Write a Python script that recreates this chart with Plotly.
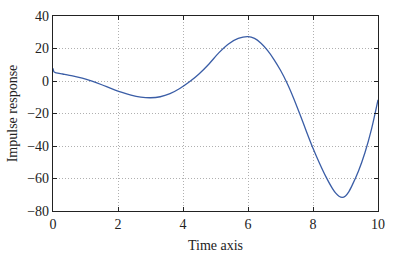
import plotly.graph_objects as go

t = [0, 0.03, 0.1, 0.3, 0.6, 0.9, 1.2, 1.5, 1.8, 2.1, 2.4, 2.7, 3.0, 3.3, 3.6, 3.9,
     4.2, 4.5, 4.8, 5.1, 5.4, 5.7, 6.0, 6.2, 6.4, 6.6, 6.8, 7.0, 7.2, 7.4, 7.6, 7.8,
     8.0, 8.2, 8.4, 8.6, 8.7, 8.8, 8.9, 9.0, 9.1, 9.2, 9.4, 9.6, 9.8, 10.0]
response = [7.8, 5.6, 5.0, 4.3, 3.2, 1.8, -0.1, -2.3, -4.7, -6.9, -8.7, -9.9, -10.3, -9.7, -7.8, -4.6,
            -0.5, 4.5, 10.5, 17.3, 22.8, 26.2, 27.3, 26.2, 23.2, 18.8, 13.2, 6.6, -1.2, -10.4, -20.6, -31.2,
            -41.4, -50.6, -59.0, -66.2, -69.0, -70.9, -71.6, -70.7, -68.2, -64.4, -55.4, -44.0, -29.6, -11.6]

x_ticks = [0, 2, 4, 6, 8, 10]
y_ticks = [-80, -60, -40, -20, 0, 20, 40]

font_family = "Liberation Serif"

fig = go.Figure()
fig.add_trace(go.Scatter(x=t, y=response, mode="lines",
                         line=dict(color="#3a5da6", width=1.3, shape="spline", smoothing=0.8),
                         showlegend=False))

axis_common = dict(
    showline=True, linecolor="#222222", linewidth=1.2, mirror="ticks",
    ticks="inside", ticklen=4, tickcolor="#222222", tickwidth=1,
    showgrid=True, gridcolor="#b0b0b0", griddash="1px,2px", gridwidth=1,
    zeroline=False, automargin=False,
    tickfont=dict(family=font_family, size=14, color="#222222"),
)

fig.update_layout(
    width=416, height=262,
    margin=dict(l=53, r=38, t=16, b=51),
    paper_bgcolor="white", plot_bgcolor="white",
    font=dict(family=font_family, size=14, color="#222222"),
    xaxis=dict(range=[0, 10], tickvals=x_ticks,
               title=dict(text="Time axis", font=dict(family=font_family, size=14), standoff=9),
               **axis_common),
    yaxis=dict(range=[-80, 40], tickvals=y_ticks,
               ticktext=[str(v).replace("-", "\u2212") for v in y_ticks],
               title=dict(text="Impulse response", font=dict(family=font_family, size=14), standoff=6),
               **axis_common),
)

fig.write_html("out.html")
